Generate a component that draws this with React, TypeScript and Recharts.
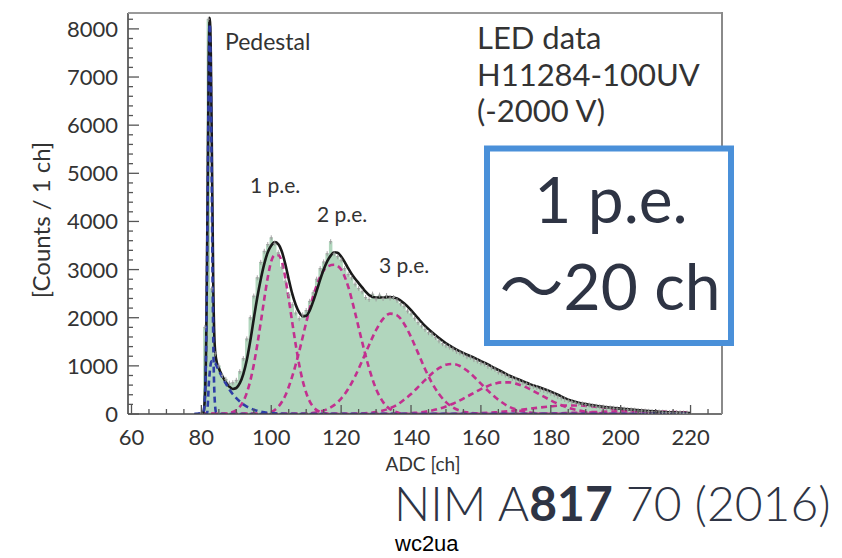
import React from "react";
import { ComposedChart, Area, Line, Scatter, XAxis, YAxis } from "recharts";

// ADC histogram, 1 ch bins, first bin = 80
const HIST_FIRST_CH = 80;
const histCounts = [
  20, 1800, 8200, 2600, 1250, 1000, 800, 720, 640, 650,
  700, 880, 1150, 1560, 2000, 2450, 2830, 3150, 3380, 3520,
  3660, 3540, 3350, 3050, 2760, 2480, 2270, 2100, 1980, 2060,
  2150, 2340, 2520, 2800, 3020, 3160, 3330, 3580, 3330, 3270,
  3200, 3020, 2900, 2830, 2700, 2610, 2540, 2420, 2380, 2490,
  2390, 2470, 2400, 2460, 2410, 2420, 2360, 2290, 2240, 2140,
  2080, 1990, 1900, 1830, 1760, 1690, 1660, 1590, 1520, 1460,
  1420, 1390, 1350, 1300, 1270, 1240, 1190, 1180, 1130, 1100,
  1060, 1040, 990, 960, 930, 870, 840, 810, 780, 740,
  720, 680, 650, 630, 590, 570, 550, 510, 490, 470,
  430, 400, 360, 330, 300, 280, 260, 240, 220, 210,
  195, 185, 170, 160, 150, 145, 130, 125, 120, 110,
  105, 100, 90, 85, 80, 70, 65, 60, 55, 50,
  48, 42, 38, 35, 30, 28, 26, 24, 20, 18, 0,
];

// total fit (black)
const fitCurve: [number, number][] = [
  [79, 0], [80, 0], [80.6, 40], [81, 350], [81.4, 1600], [81.8, 4700], [82.1, 7300], [82.4, 8230],
  [82.7, 7500], [83, 5500], [83.4, 2700], [83.8, 1450], [84.2, 1150], [85, 950], [86, 790],
  [87, 660], [88, 570], [89, 520], [90, 540], [91, 640], [92, 830], [93, 1120], [94, 1520],
  [95, 1980], [96, 2420], [97, 2800], [98, 3120], [99, 3360], [100, 3500], [101, 3570],
  [102, 3530], [103, 3380], [104, 3120], [105, 2800], [106, 2500], [107, 2270], [108, 2110],
  [109, 2030], [110, 2040], [111, 2150], [112, 2340], [113, 2560], [114, 2790], [115, 3000],
  [116, 3170], [117, 3290], [118, 3360], [119, 3350], [120, 3270], [121, 3160], [122, 3030],
  [123, 2910], [124, 2810], [125, 2720], [126, 2630], [127, 2540], [128, 2470], [130, 2420],
  [132, 2420], [134, 2430], [136, 2400], [138, 2300], [140, 2160], [142, 1990], [144, 1830],
  [146, 1700], [148, 1580], [150, 1470], [152, 1380], [154, 1300], [156, 1230], [158, 1170],
  [160, 1100], [162, 1030], [164, 950], [166, 880], [168, 800], [170, 740], [172, 680],
  [174, 620], [176, 570], [178, 520], [180, 465], [182, 400], [184, 330], [186, 275],
  [188, 235], [190, 205], [192, 180], [194, 160], [196, 140], [198, 125], [200, 112],
  [204, 85], [208, 60], [212, 40], [216, 28], [220, 18],
];

// pedestal components (blue dashed)
const pedestalPeak: [number, number][] = [
  [78, 0], [80.6, 38], [81, 316], [81.4, 1550], [81.8, 4460], [82.1, 6970], [82.4, 8100],
  [82.7, 6970], [83, 4460], [83.4, 1550], [83.8, 316], [84.2, 38], [85, 0], [220, 0],
];
const pedestalTail: [number, number][] = [
  [78, 0], [81.6, 0], [82.2, 700], [82.8, 1080], [83, 1100], [84, 1050], [85, 900], [86, 760],
  [87, 630], [88, 510], [89, 410], [90, 330], [91, 260], [92, 200], [93, 155], [94, 120],
  [95, 90], [96, 65], [97, 48], [98, 35], [100, 18], [102, 8], [105, 0], [220, 0],
];

// n p.e. components (magenta dashed)
const pe1: [number, number][] = [
  [80, 0], [87, 0], [88, 20], [89, 40], [90, 80], [91, 150], [92, 263], [93, 440], [94, 690],
  [95, 1025], [96, 1440], [97, 1905], [98, 2390], [99, 2835], [100, 3175], [101, 3300],
  [102, 3300], [103, 3175], [104, 2835], [105, 2390], [106, 1905], [107, 1440], [108, 1025],
  [109, 690], [110, 440], [111, 263], [112, 150], [113, 80], [114, 40], [115, 20], [117, 0], [220, 0],
];
const pe2: [number, number][] = [
  [80, 0], [98, 0], [100, 40], [102, 150], [104, 380], [106, 780], [108, 1300], [110, 1900],
  [112, 2450], [114, 2850], [116, 3060], [118, 3100], [120, 3000], [122, 2650], [124, 2100],
  [126, 1500], [128, 950], [130, 520], [132, 250], [134, 100], [136, 35], [138, 0], [220, 0],
];
const pe3: [number, number][] = [
  [80, 0], [110, 0], [112, 25], [114, 50], [116, 100], [118, 185], [120, 320], [122, 520],
  [124, 785], [126, 1100], [128, 1435], [130, 1745], [132, 1975], [134, 2085], [136, 2050],
  [138, 1875], [140, 1600], [142, 1270], [144, 935], [146, 645], [148, 415], [150, 247],
  [152, 137], [154, 70], [156, 35], [158, 15], [160, 0], [220, 0],
];
const pe4: [number, number][] = [
  [80, 0], [124, 0], [126, 11], [128, 22], [130, 41], [132, 72], [134, 120], [136, 190],
  [138, 295], [140, 416], [142, 557], [144, 703], [146, 843], [148, 951], [150, 1024],
  [152, 1038], [154, 996], [156, 903], [158, 775], [160, 630], [162, 485], [164, 353],
  [166, 243], [168, 152], [170, 94], [172, 55], [174, 30], [176, 15], [178, 0], [220, 0],
];
const pe5: [number, number][] = [
  [80, 0], [138, 0], [140, 17], [142, 29], [144, 47], [146, 73], [148, 108], [150, 155],
  [152, 214], [154, 283], [156, 360], [158, 440], [160, 517], [162, 583], [164, 631],
  [166, 657], [168, 657], [170, 631], [172, 583], [174, 517], [176, 440], [178, 360],
  [180, 283], [182, 214], [184, 155], [186, 108], [188, 73], [190, 47], [192, 29],
  [194, 17], [196, 10], [198, 0], [220, 0],
];
const pe6: [number, number][] = [
  [80, 0], [152, 0], [156, 8], [160, 17], [164, 33], [168, 58], [172, 91], [176, 127],
  [180, 159], [184, 177], [188, 177], [192, 159], [196, 127], [200, 91], [204, 58],
  [208, 33], [212, 17], [216, 8], [220, 3],
];
const pe7: [number, number][] = [
  [80, 0], [176, 0], [180, 10], [186, 23], [192, 39], [198, 54], [204, 60], [210, 54],
  [216, 39], [220, 28],
];

const xTicks = [
  60, 65, 70, 75, 80, 85, 90, 95, 100, 105, 110, 115, 120, 125, 130, 135, 140, 145,
  150, 155, 160, 165, 170, 175, 180, 185, 190, 195, 200, 205, 210, 215, 220, 225,
];
const yTicks = [
  0, 200, 400, 600, 800, 1000, 1200, 1400, 1600, 1800, 2000, 2200, 2400, 2600, 2800,
  3000, 3200, 3400, 3600, 3800, 4000, 4200, 4400, 4600, 4800, 5000, 5200, 5400, 5600,
  5800, 6000, 6200, 6400, 6600, 6800, 7000, 7200, 7400, 7600, 7800, 8000, 8200,
];

const toPts = (arr: [number, number][]) => arr.map(([x, y]) => ({ x, y }));
const hist = histCounts.map((y, i) => ({ x: HIST_FIRST_CH + i, y }));

const FONT = "Lato, 'Open Sans', sans-serif";
const INK = "#333";
const MAGENTA = "#c2308f";
const BLUE = "#2f3da6";

const YTick = (p: any) => {
  const v = p.payload.value;
  const major = v % 1000 === 0;
  return (
    <g>
      <line x1={p.x} x2={p.x + (major ? 11 : 5)} y1={p.y} y2={p.y} stroke="#555" strokeWidth={1.3} />
      {major && (
        <text x={p.x - 10} y={p.y + 8} textAnchor="end" fontFamily={FONT} fontSize={22} fill={INK}>
          {v}
        </text>
      )}
    </g>
  );
};

const XTick = (p: any) => {
  const v = p.payload.value;
  const major = v % 20 === 0;
  return (
    <g>
      <line x1={p.x} x2={p.x} y1={p.y} y2={p.y - (major ? 9 : 5)} stroke="#555" strokeWidth={1.3} />
      {major && (
        <text x={p.x} y={p.y + 31} textAnchor="middle" fontFamily={FONT} fontSize={22} fill={INK}>
          {v}
        </text>
      )}
    </g>
  );
};

const DataMark = (p: any) => {
  if (p.cx == null || p.cy == null) return <g />;
  return (
    <g stroke="#9a9a9a" strokeWidth={0.9}>
      <line x1={p.cx} x2={p.cx} y1={p.cy - 2.5} y2={p.cy + 2.5} />
      <line x1={p.cx - 1.5} x2={p.cx + 1.5} y1={p.cy} y2={p.cy} />
    </g>
  );
};

export default function App() {
  const dash = (data: [number, number][], color: string, key: string) => (
    <Line
      key={key}
      data={toPts(data)}
      dataKey="y"
      type="monotone"
      stroke={color}
      strokeWidth={2.6}
      strokeDasharray="6 4"
      dot={false}
      isAnimationActive={false}
    />
  );

  return (
    <div style={{ position: "absolute", left: 0, top: 0, width: 842, height: 558, background: "#fff" }}>
      <ComposedChart width={842} height={558} margin={{ top: 13, right: 120, bottom: 0, left: 0 }}>
        <XAxis
          type="number"
          dataKey="x"
          domain={[59, 229]}
          ticks={xTicks}
          interval={0}
          allowDataOverflow
          height={144}
          tickSize={0}
          tickMargin={0}
          tick={<XTick />}
          axisLine={{ stroke: "#444", strokeWidth: 1.6 }}
        />
        <YAxis
          type="number"
          domain={[0, 8330]}
          ticks={yTicks}
          interval={0}
          allowDataOverflow
          width={128}
          tickSize={0}
          tickMargin={0}
          tick={<YTick />}
          axisLine={{ stroke: "#444", strokeWidth: 1.6 }}
        />
        <Area
          data={hist}
          dataKey="y"
          type="step"
          fill="#b1d6bd"
          fillOpacity={1}
          stroke="none"
          isAnimationActive={false}
        />
        <Scatter data={hist} dataKey="y" shape={<DataMark />} isAnimationActive={false} />
        {dash(pe7, MAGENTA, "pe7")}
        {dash(pe6, MAGENTA, "pe6")}
        {dash(pe5, MAGENTA, "pe5")}
        {dash(pe4, MAGENTA, "pe4")}
        {dash(pe3, MAGENTA, "pe3")}
        {dash(pe2, MAGENTA, "pe2")}
        {dash(pe1, MAGENTA, "pe1")}
        <Line
          data={toPts(fitCurve)}
          dataKey="y"
          type="monotone"
          stroke="#1a1a1a"
          strokeWidth={2.6}
          dot={false}
          isAnimationActive={false}
        />
        {dash(pedestalTail, BLUE, "pedTail")}
        {dash(pedestalPeak, BLUE, "pedPeak")}
      </ComposedChart>

      <svg width={842} height={558} style={{ position: "absolute", left: 0, top: 0, pointerEvents: "none" }}>
        {/* frame top / right */}
        <line x1={128} x2={722} y1={13} y2={13} stroke="#9a9a9a" strokeWidth={2} />
        <line x1={722} x2={722} y1={12} y2={414} stroke="#8a8a8a" strokeWidth={2} />

        <g fontFamily={FONT} fill={INK}>
          <text x={225} y={50} fontSize={23}>Pedestal</text>
          <text x={250} y={193} fontSize={21}>1 p.e.</text>
          <text x={317} y={222} fontSize={21}>2 p.e.</text>
          <text x={379} y={273} fontSize={21}>3 p.e.</text>
          <text x={477} y={49} fontSize={31}>LED data</text>
          <text x={477} y={86} fontSize={31}>H11284-100UV</text>
          <text x={477} y={122} fontSize={31}>(-2000 V)</text>
          <text x={423} y={471} fontSize={19} textAnchor="middle">ADC [ch]</text>
          <text
            x={0}
            y={0}
            fontSize={24}
            textAnchor="middle"
            transform="translate(50 220) rotate(-90)"
          >
            [Counts / 1 ch]
          </text>
        </g>

        <rect x={487} y={148.5} width={244} height={194.5} fill="#fff" stroke="#4a90d9" strokeWidth={6} />
        <g fontFamily="Lato, 'Noto Sans CJK JP', sans-serif" fill="#2e3444">
          <text x={611} y={223} fontSize={64} textAnchor="middle" fontWeight={400}>1 p.e.</text>
          <text x={610} y={310} fontSize={64} textAnchor="middle" fontWeight={400}>〜20 ch</text>
          <text x={394} y={521} fontSize={48} fontWeight={300}>
            NIM A<tspan fontWeight={700}>817</tspan> 70 (2016)
          </text>
        </g>
        <text x={395} y={551} fontFamily="'Liberation Sans', Arial, sans-serif" fontSize={22} fill="#000">
          wc2ua
        </text>
      </svg>
    </div>
  );
}
